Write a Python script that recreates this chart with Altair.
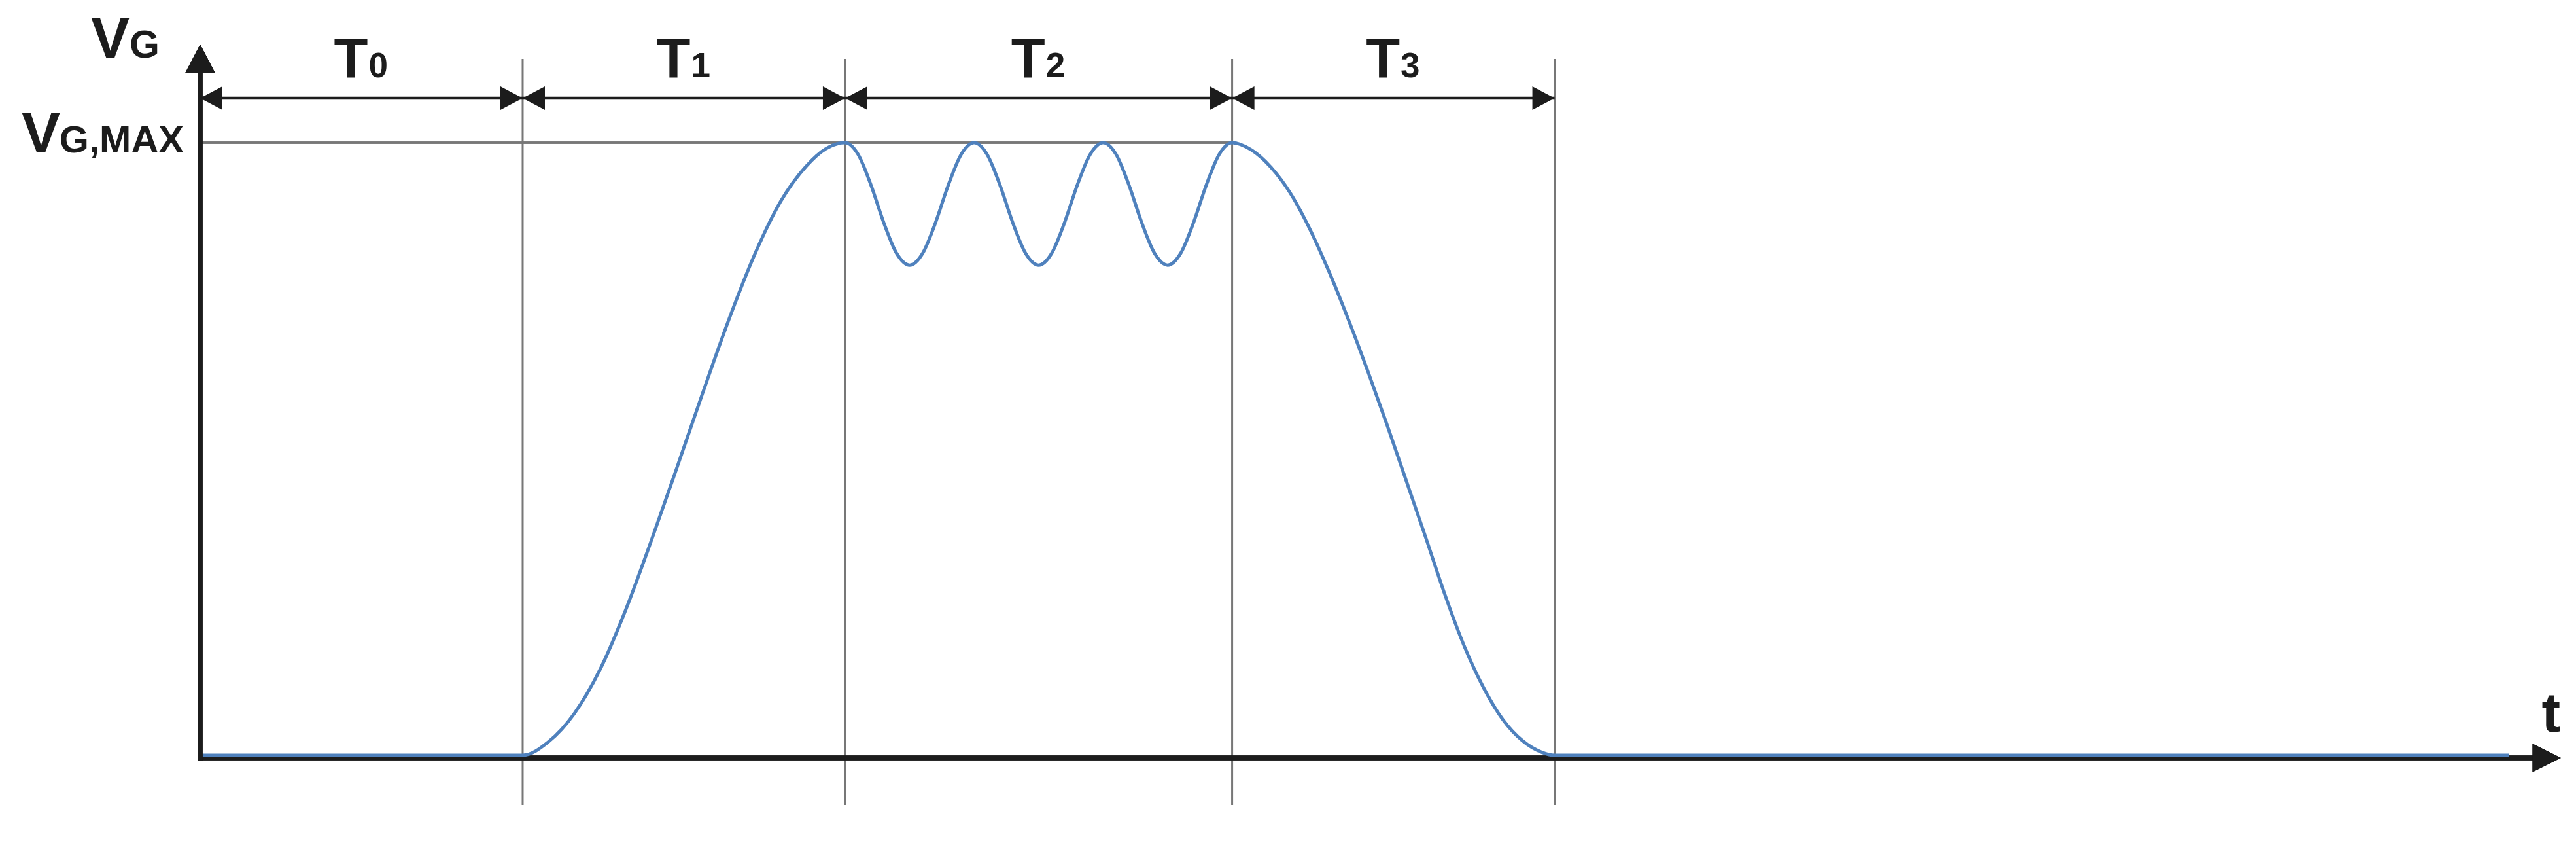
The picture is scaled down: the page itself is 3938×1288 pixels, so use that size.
import altair as alt
import pandas as pd

# ---------------- data ----------------
phase_letters = ["T", "T", "T", "T"]
phase_subs = ["0", "1", "2", "3"]
phase_bounds = [0, 5, 10, 16, 21]          # time units
flat_end_t = 35.8
vg_max = 1.0

rise_t = [5.0, 5.4, 5.8, 6.2, 6.6, 7.0, 7.4, 7.8, 8.2, 8.6, 9.0, 9.4, 9.7, 10.0]
rise_v = [0.0, 0.022, 0.068, 0.140, 0.238, 0.352, 0.472, 0.594, 0.712, 0.818, 0.904,
          0.962, 0.990, 1.0]

ripple_t = [10.0, 10.2, 10.4, 10.6, 10.8, 11.0, 11.2, 11.4, 11.6, 11.8,
            12.0, 12.2, 12.4, 12.6, 12.8, 13.0, 13.2, 13.4, 13.6, 13.8,
            14.0, 14.2, 14.4, 14.6, 14.8, 15.0, 15.2, 15.4, 15.6, 15.8, 16.0]
ripple_v = [1.0, 0.981, 0.931, 0.869, 0.819, 0.80, 0.819, 0.869, 0.931, 0.981,
            1.0, 0.981, 0.931, 0.869, 0.819, 0.80, 0.819, 0.869, 0.931, 0.981,
            1.0, 0.981, 0.931, 0.869, 0.819, 0.80, 0.819, 0.869, 0.931, 0.981, 1.0]

fall_t = [16.0, 16.3, 16.6, 16.9, 17.2, 17.5, 17.8, 18.1, 18.4, 18.7, 19.0,
          19.3, 19.6, 19.9, 20.2, 20.5, 20.8, 21.0]
fall_v = [1.0, 0.988, 0.960, 0.918, 0.860, 0.790, 0.712, 0.628, 0.540, 0.448, 0.356,
          0.262, 0.178, 0.110, 0.058, 0.024, 0.005, 0.0]

# ---------------- layout / style ----------------
W, H = 3922, 1272
XDOM = [-3.0223, 36.755]
YDOM = [-0.13462, 1.22436]
FONT = "Liberation Sans"
BLACK = "#1c1c1c"
GRAY = "#777777"
BLUE = "#4f81bd"

xs = alt.Scale(domain=XDOM, nice=False, zero=False)
ys = alt.Scale(domain=YDOM, nice=False, zero=False)


def XD(v):
    return alt.XDatum(v, type="quantitative", scale=xs, axis=None)


def YD(v):
    return alt.YDatum(v, type="quantitative", scale=ys, axis=None)


def XF(f):
    return alt.X(f, type="quantitative", scale=xs, axis=None)


def YF(f):
    return alt.Y(f, type="quantitative", scale=ys, axis=None)


# tables built from the arrays
curve = pd.DataFrame({
    "t": [phase_bounds[0]] + rise_t + ripple_t[1:] + fall_t[1:] + [flat_end_t],
    "v": [0.0] + rise_v + ripple_v[1:] + fall_v[1:] + [0.0],
})
bounds_df = pd.DataFrame({"t": phase_bounds[1:]})
segs = pd.DataFrame({
    "t1": phase_bounds[:-1],
    "t2": phase_bounds[1:],
    "mid": [(a + b) / 2 for a, b in zip(phase_bounds[:-1], phase_bounds[1:])],
    "letter": phase_letters,
    "sub": phase_subs,
})
left_tips = pd.DataFrame({"t": phase_bounds[:-1]})
right_tips = pd.DataFrame({"t": phase_bounds[1:]})

# vertical phase boundary lines
vlines = alt.Chart(bounds_df).mark_rule(color=GRAY, strokeWidth=3).encode(
    x=XF("t"), y=YD(-0.0812), y2=alt.Y2Datum(1.1368)
)

# V_G,MAX level line
vmax_line = alt.Chart(bounds_df).mark_rule(color=GRAY, strokeWidth=3).encode(
    x=XD(phase_bounds[0]), x2=alt.X2Datum(phase_bounds[3]), y=YD(vg_max)
)

# axes
x_axis = alt.Chart(bounds_df).mark_rule(color=BLACK, strokeWidth=7, yOffset=4).encode(
    x=XD(-0.035), x2=alt.X2Datum(36.2), y=YD(0.0)
)
y_axis = alt.Chart(bounds_df).mark_rule(color=BLACK, strokeWidth=7).encode(
    x=XD(0.0), y=YD(-0.0085), y2=alt.Y2Datum(1.12)
)
x_arrow = alt.Chart(bounds_df).mark_point(
    shape="M0,0 L-2,-1 L-2,1 Z", size=1849, filled=True, color=BLACK, opacity=1,
    strokeWidth=0, yOffset=4
).encode(x=XD(36.60), y=YD(0.0))
y_arrow = alt.Chart(bounds_df).mark_point(
    shape="M0,0 L-1,1.913 L1,1.913 Z", size=2116, filled=True, color=BLACK, opacity=1,
    strokeWidth=0
).encode(x=XD(0.0), y=YD(1.1603))

# the V_G curve
line = alt.Chart(curve).mark_line(color=BLUE, strokeWidth=5, interpolate="monotone").encode(
    x=XF("t"), y=YF("v")
)

# dimension arrows
DIM_Y = 1.0726
dim_lines = alt.Chart(segs).mark_rule(color=BLACK, strokeWidth=4.5).encode(
    x=XF("t1"), x2="t2:Q", y=YD(DIM_Y)
)
tips_r = alt.Chart(right_tips).mark_point(
    shape="M0,0 L-1.89,-1 L-1.89,1 Z", size=1296, filled=True, color=BLACK, opacity=1,
    strokeWidth=0
).encode(x=XF("t"), y=YD(DIM_Y))
tips_l = alt.Chart(left_tips).mark_point(
    shape="M0,0 L1.89,-1 L1.89,1 Z", size=1296, filled=True, color=BLACK, opacity=1,
    strokeWidth=0
).encode(x=XF("t"), y=YD(DIM_Y))

# phase labels T0..T3
T_Y = 1.1068
t_big = alt.Chart(segs).mark_text(
    font=FONT, fontWeight="bold", fontSize=85, align="right", baseline="alphabetic",
    dx=10, color=BLACK
).encode(x=XF("mid"), y=YD(T_Y), text="letter:N")
t_sub = alt.Chart(segs).mark_text(
    font=FONT, fontWeight="bold", fontSize=53, align="left", baseline="alphabetic",
    dx=11, color=BLACK
).encode(x=XF("mid"), y=YD(T_Y), text="sub:N")


# axis labels
def label(txt, x, y, size, align, dx=0):
    return alt.Chart(pd.DataFrame({"s": [txt]})).mark_text(
        font=FONT, fontWeight="bold", fontSize=size, align=align,
        baseline="alphabetic", dx=dx, color=BLACK
    ).encode(x=XD(x), y=YD(y), text="s:N")


vg_V = label("V", 0.0, 1.1389, 88, "right", dx=-108)
vg_G = label("G", 0.0, 1.1389, 59, "left", dx=-108)
vm_V = label("V", 0.0, 0.9840, 88, "right", dx=-214)
vm_G = label("G,MAX", 0.0, 0.9840, 58, "right", dx=-25)
t_lab = label("t", 36.45, 0.0385, 86, "center")

chart = alt.layer(
    vlines, vmax_line, x_axis, line, y_axis, x_arrow, y_arrow,
    dim_lines, tips_r, tips_l, t_big, t_sub, vg_V, vg_G, vm_V, vm_G, t_lab
).properties(
    width=W, height=H, autosize=alt.AutoSizeParams(type="none"), padding=0,
    background="white"
).configure_view(strokeWidth=0)

chart.save("out.html", embed_options={"renderer": "svg", "actions": False})
